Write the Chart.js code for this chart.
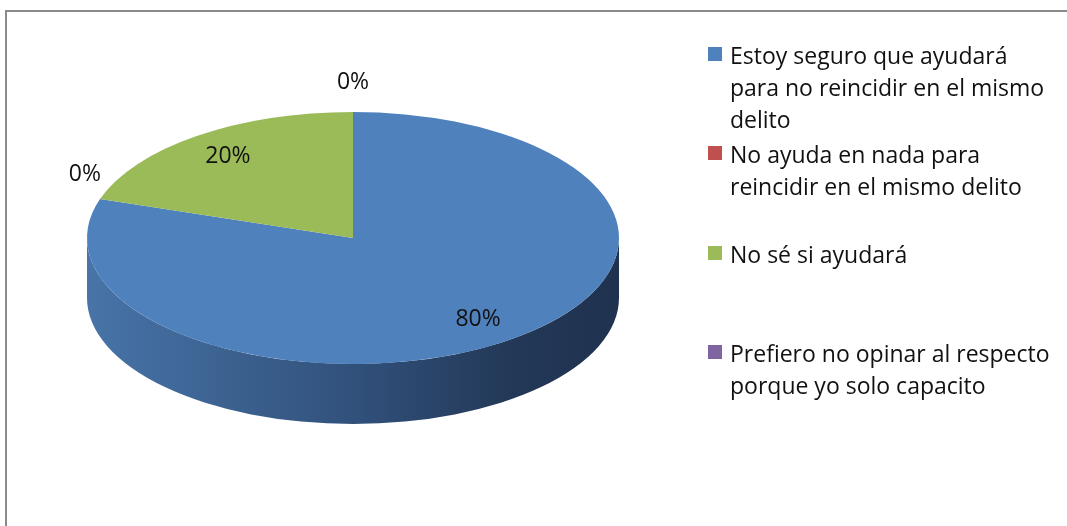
<!DOCTYPE html>
<html lang="es">
<head>
<meta charset="UTF-8">
<title>Reincidencia en el mismo delito</title>
<script src="https://cdn.jsdelivr.net/npm/chart.js@4.4.0/dist/chart.umd.min.js"></script>
<style>
  html, body { margin: 0; padding: 0; background: #fff; }
  #wrap { position: relative; width: 1067px; height: 526px; overflow: hidden; }
  #frame { position: absolute; left: 5px; top: 10px; width: 1120px; height: 600px;
           border: 2px solid #8a8a8a; box-sizing: border-box; }
  #pie { position: absolute; left: 0; top: 0; }
  #legend { position: absolute; left: 708px; top: 39px; font-family: 'Open Sans', sans-serif;
            font-size: 23px; line-height: 32px; color: #111; }
  .item { position: relative; height: 99.3px; padding-left: 22px; white-space: nowrap; }
  .box { position: absolute; left: 0; top: 8px; width: 14px; height: 14px; }
</style>
</head>
<body>
<div id="wrap">
  <div id="frame"></div>
  <canvas id="pie" width="1067" height="526"></canvas>
  <div id="legend"></div>
</div>
<script>
  // data
  const categories = [
    ['Estoy seguro que ayudará', 'para no reincidir en el mismo', 'delito'],
    ['No ayuda en nada para', 'reincidir en el mismo delito'],
    ['No sé si ayudará'],
    ['Prefiero no opinar al respecto', 'porque yo solo capacito']
  ];
  const shares = [80, 0, 20, 0];

  const topColors = ['#4f81bd', '#c0504d', '#9bbb59', '#8064a2'];
  const sideStops = [
    ['#4874a8', '#31517b', '#233857', '#1f3250'],
    ['#b04a47', '#833634', '#5e2725', '#552321'],
    ['#8eab52', '#6a803d', '#4d5d2c', '#465428'],
    ['#7660a0', '#574676', '#3f3355', '#392e4d']
  ];
  const TILT = 126 / 266;   // vertical squash of the pie
  const DEPTH = 60;         // thickness of the pie in px

  const pie3d = {
    id: 'pie3d',
    beforeDatasetsDraw(chart) {
      const ctx = chart.ctx;
      const arcs = chart.getDatasetMeta(0).data;
      const cx = arcs[0].x, cy = arcs[0].y;
      ctx.save();
      ctx.translate(cx, cy);
      ctx.scale(1, TILT);
      ctx.translate(-cx, -cy);
      const d = DEPTH / TILT;
      arcs.forEach((arc, i) => {
        const r = arc.outerRadius;
        const a0 = Math.max(arc.startAngle, 0);
        const a1 = Math.min(arc.endAngle, Math.PI);
        if (a1 <= a0) return;
        const g = ctx.createLinearGradient(cx - r, 0, cx + r, 0);
        const s = sideStops[i];
        g.addColorStop(0, s[0]);
        g.addColorStop(0.5, s[1]);
        g.addColorStop(0.8, s[2]);
        g.addColorStop(1, s[3]);
        ctx.beginPath();
        ctx.arc(cx, cy, r, a0, a1);
        ctx.arc(cx, cy + d, r, a1, a0, true);
        ctx.closePath();
        ctx.fillStyle = g;
        ctx.fill();
      });
      // transform stays on while the library draws the top faces
    },
    afterDatasetsDraw(chart) {
      const ctx = chart.ctx;
      ctx.restore();
      const arcs = chart.getDatasetMeta(0).data;
      ctx.save();
      ctx.font = '23px "Open Sans", sans-serif';
      ctx.fillStyle = '#111';
      ctx.textAlign = 'center';
      ctx.textBaseline = 'middle';
      arcs.forEach((arc, i) => {
        const mid = (arc.startAngle + arc.endAngle) / 2;
        const r = arc.outerRadius;
        const inside = shares[i] > 0;
        const f = inside ? 0.8 : 1.06;
        const x = arc.x + r * f * Math.cos(mid);
        const y = arc.y + r * TILT * f * Math.sin(mid) - (inside ? 0 : 22);
        ctx.fillText(shares[i] + '%', x, y);
      });
      ctx.restore();
    }
  };

  new Chart(document.getElementById('pie'), {
    type: 'pie',
    data: {
      labels: categories,
      datasets: [{
        data: shares,
        backgroundColor: topColors,
        borderWidth: 0,
        radius: 266,
        clip: false
      }]
    },
    options: {
      responsive: false,
      animation: false,
      devicePixelRatio: 1,
      events: [],
      layout: { padding: { left: 0, right: 361, top: 0, bottom: 50 } },
      plugins: { legend: { display: false }, tooltip: { enabled: false } }
    },
    plugins: [pie3d]
  });

  // legend as html text
  const legend = document.getElementById('legend');
  categories.forEach((lines, i) => {
    const item = document.createElement('div');
    item.className = 'item';
    const box = document.createElement('span');
    box.className = 'box';
    box.style.background = topColors[i];
    item.appendChild(box);
    lines.forEach((t, j) => {
      if (j) item.appendChild(document.createElement('br'));
      item.appendChild(document.createTextNode(t));
    });
    legend.appendChild(item);
  });
</script>
</body>
</html>
